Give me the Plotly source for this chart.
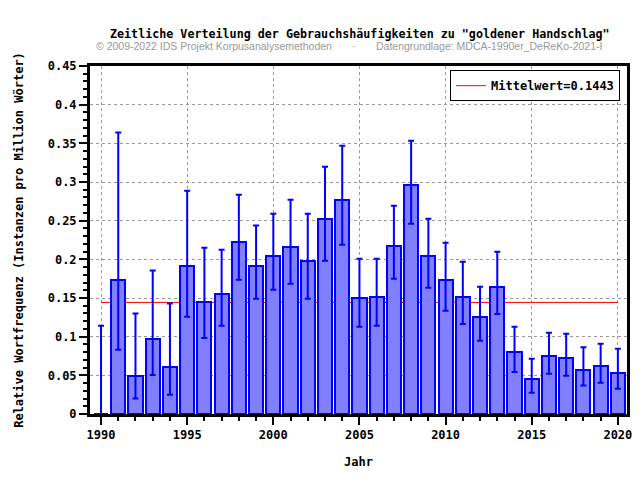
import plotly.graph_objects as go

years = list(range(1990, 2021))
values = [0.0, 0.1737, 0.0496, 0.0965, 0.0603, 0.1918, 0.1453, 0.1556, 0.2228, 0.1910,
          0.2047, 0.2155, 0.1974, 0.2517, 0.2763, 0.1504, 0.1517, 0.2168, 0.2957, 0.2039,
          0.1728, 0.1517, 0.1250, 0.1647, 0.0797, 0.0448, 0.0745, 0.0720, 0.0565, 0.0616,
          0.0526]
upper = [0.1140, 0.3640, 0.1300, 0.1854, 0.1430, 0.2888, 0.2150, 0.2125, 0.2836, 0.2436,
         0.2590, 0.2772, 0.2590, 0.3198, 0.3470, 0.2009, 0.2009, 0.2694, 0.3534, 0.2526,
         0.2215, 0.1970, 0.1647, 0.2099, 0.1129, 0.0716, 0.1052, 0.1039, 0.0862, 0.0910,
         0.0845]
lower = [0.0, 0.0830, 0.0199, 0.0504, 0.0250, 0.1259, 0.0983, 0.1142, 0.1737, 0.1490,
         0.1607, 0.1685, 0.1490, 0.1983, 0.2190, 0.1129, 0.1142, 0.1750, 0.2461, 0.1634,
         0.1336, 0.1164, 0.0948, 0.1293, 0.0543, 0.0276, 0.0522, 0.0496, 0.0367, 0.0405,
         0.0328]
mean_value = 0.1443
mean_label = "Mittelwert=0.1443"

title_text = 'Zeitliche Verteilung der Gebrauchshäufigkeiten zu "goldener Handschlag"'
sub_left = "© 2009-2022 IDS Projekt Korpusanalysemethoden"
sub_mid = "·"
sub_right = "Datengrundlage: MDCA-1990er_DeReKo-2021-I"
x_title = "Jahr"
y_title = "Relative Wortfrequenz (Instanzen pro Million Wörter)"

MONO = "DejaVu Sans Mono"

err_plus = [u - v for u, v in zip(upper, values)]
err_minus = [v - l for v, l in zip(values, lower)]

fig = go.Figure()
fig.add_trace(go.Bar(
    x=years, y=values, width=0.82,
    marker=dict(color="#8080FF", line=dict(color="#0000FF", width=2)),
    error_y=dict(type="data", symmetric=False, array=err_plus, arrayminus=err_minus,
                 color="#0000FF", thickness=2, width=3),
    showlegend=False, hoverinfo="skip",
))
# legend entry for the mean line (line itself drawn as a shape behind the bars)
fig.add_trace(go.Scatter(
    x=[None], y=[None], mode="lines",
    line=dict(color="#FF0000", width=1), name=mean_label, showlegend=True,
))
fig.add_shape(type="line", xref="x", yref="y", x0=years[0], x1=years[-1],
              y0=mean_value, y1=mean_value, line=dict(color="#FF0000", width=1),
              layer="between")

sub_font = dict(family="Liberation Sans", size=10.5, color="#999999", weight="normal")

fig.update_layout(
    width=640, height=480,
    margin=dict(l=90, r=13, t=66, b=66),
    paper_bgcolor="white", plot_bgcolor="white",
    font=dict(family=MONO, size=12, color="black", weight="bold"),
    bargap=0,
    legend=dict(x=0.987, y=0.988, xanchor="right", yanchor="top",
                bgcolor="white", bordercolor="black", borderwidth=1,
                font=dict(family=MONO, size=12, color="black", weight="bold")),
    xaxis=dict(
        range=[1989.36, 2020.53], tickmode="linear", tick0=1990, dtick=5,
        ticks="outside", ticklen=8, tickwidth=2, tickcolor="black",
        minor=dict(dtick=1, ticks="outside", ticklen=4, tickwidth=2, tickcolor="black", showgrid=False),
        showline=True, linecolor="black", linewidth=3, mirror=True,
        showgrid=True, gridcolor="#999999", griddash="dot", gridwidth=1,
        zeroline=False, automargin=False,
        title=dict(text=x_title, font=dict(family=MONO, size=12, weight="bold"), standoff=17),
        tickfont=dict(family=MONO, size=12, weight="bold"),
    ),
    yaxis=dict(
        range=[0, 0.45], tickmode="linear", tick0=0, dtick=0.05,
        ticks="outside", ticklen=8, tickwidth=2, tickcolor="black",
        minor=dict(dtick=0.01, ticks="outside", ticklen=4, tickwidth=2, tickcolor="black", showgrid=False),
        showline=True, linecolor="black", linewidth=3, mirror=True,
        showgrid=True, gridcolor="#999999", griddash="dot", gridwidth=1,
        zeroline=False, automargin=False,
        title=dict(text=y_title, font=dict(family=MONO, size=12, weight="bold"), standoff=22),
        tickfont=dict(family=MONO, size=12, weight="bold"),
    ),
    annotations=[
        dict(text=title_text, xref="paper", yref="paper", x=0.0, xanchor="left",
             y=1.0, yanchor="bottom", yshift=23, xshift=18, showarrow=False,
             font=dict(family=MONO, size=11.7, color="black", weight="bold")),
        dict(text=sub_left, xref="paper", yref="paper", x=0.0, xanchor="left",
             y=1.0, yanchor="bottom", yshift=12, xshift=4, showarrow=False,
             font=sub_font),
        dict(text=sub_mid, xref="paper", yref="paper", x=0.0, xanchor="left",
             y=1.0, yanchor="bottom", yshift=12, xshift=260, showarrow=False,
             font=sub_font),
        dict(text=sub_right, xref="paper", yref="paper", x=0.0, xanchor="left",
             y=1.0, yanchor="bottom", yshift=12, xshift=284, showarrow=False,
             font=sub_font),
    ],
)

fig.write_html("out.html", config={"displayModeBar": False},
               post_script="document.body.style.margin='0px';")
